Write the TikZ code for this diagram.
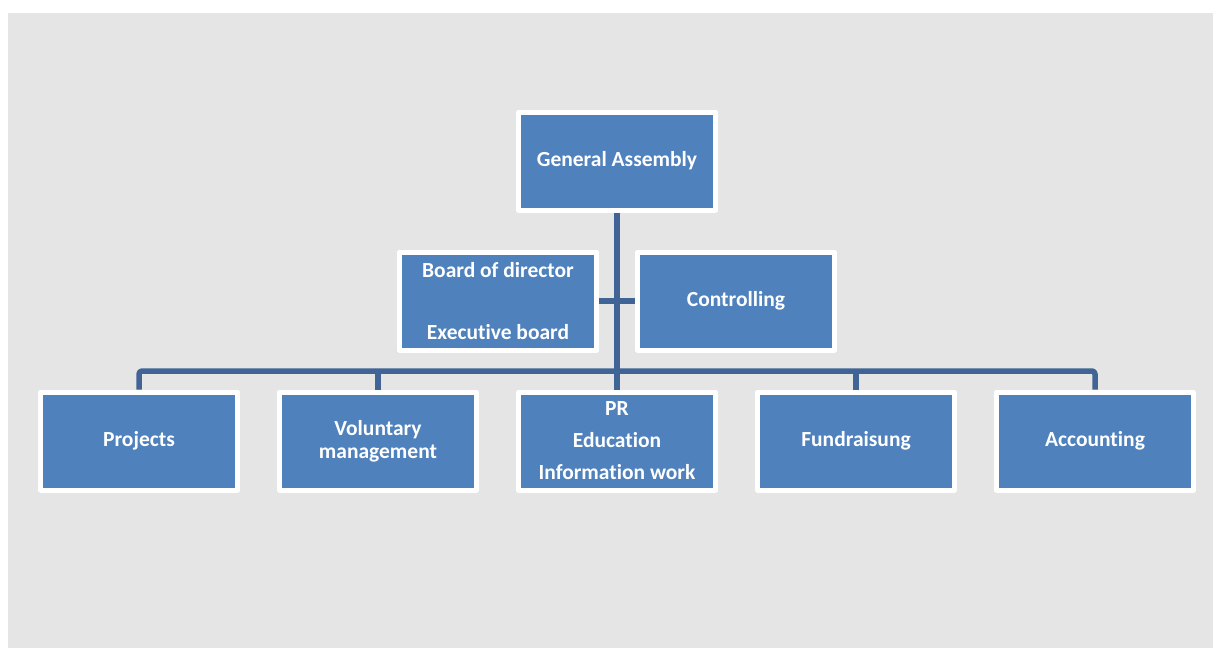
\documentclass[tikz,border=0pt]{standalone}
\usepackage{fontspec}
\setmainfont{Carlito}[Ligatures = NoCommon]
\usetikzlibrary{positioning}
\definecolor{unitblue}{RGB}{79,129,189}
\definecolor{linkblue}{RGB}{64,100,150}
\definecolor{sheetgray}{RGB}{229,229,229}
\begin{document}
\begin{tikzpicture}[x = 1pt, y = -1pt, line join = round,
        unit/.style = {draw = white, line width = 5pt, fill = unitblue, minimum width = 197pt, minimum height = 98pt,
            inner sep = 0pt, text = white, align = center, font = \fontsize{21.5}{23}\selectfont\bfseries},
        link/.style = {draw = linkblue, line width = 5.5pt, rounded corners = 3pt}]
        %
        \def\RowGap{239}
        \def\BusY{371}
        %
        \useasboundingbox (0, 0) rectangle (1213, 648);
        \fill [sheetgray] (8, 13) rectangle (1213, 648);

        % top
        \node [unit] (assembly) at (617, 161) {General Assembly};
        \node [unit] (board) at (498, 301) {Board of director\\[39pt]Executive board};
        \node [unit] (control) at (736, 301) {Controlling};

        % departments
        \foreach [count = \i] \name/\txt in {projects/Projects, voluntary/Voluntary\\management,
            pr/PR\\[9pt]Education\\[9pt]Information work, fundraising/Fundraisung, accounting/Accounting}
        {
            \node [unit] (\name) at ({139 + (\i - 1) * \RowGap}, 441) {\txt};
        }

        % links
        \coordinate (bus) at (617, \BusY);
        \draw [link] (assembly.south) -- (pr.north);
        \draw [link] (board.east) -- (control.west);
        \draw [link] (projects.north) |- (bus) -| (accounting.north);
        \foreach \name in {voluntary, fundraising}
            \draw [link] (\name.north) -- (\name.north |- bus);
    \end{tikzpicture}
\end{document}
